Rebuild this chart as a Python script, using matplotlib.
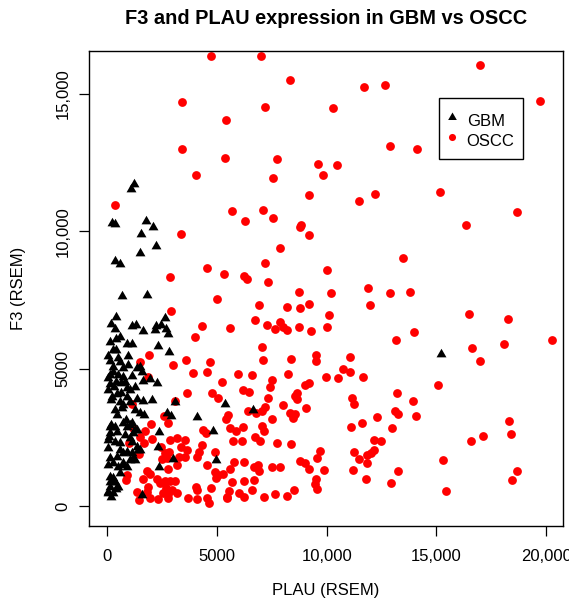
import matplotlib
matplotlib.use("Agg")
import matplotlib.pyplot as plt
from matplotlib.patches import Rectangle

plt.rcParams['font.family'] = ['Liberation Sans', 'DejaVu Sans']

# GBM samples (PLAU, F3) in RSEM
gbm_plau = [1226, 1076, 196, 360, 1746, 2065, 1545, 2215, 1486, 346, 574, 652, 1791, 392, 2625,
            164, 346, 1108, 1304, 1609, 2202, 2429, 2170, 2671, 2776, 574, 392, 119, 880, 1108,
            2293, 2808, 392, 469, 119, 574, 242, 725, 1486, 1336, 1563, 119, 41, 497, 725,
            1108, 392, 606, 802, 119, 1636, 1942, 2247, 1258, 301, 880, 196, 424, 880, 1336,
            1636, 2019, 3081, 574, 150, 725, 2703, 2899, 4070, 5374, 6650, 15219, 2352, 4827, 2320,
            2976, 4950, 2352, 1563,
            424, 150, 346, 725, 848, 1030, 1336, 119, 424, 802, 1180, 30, 346, 574, 1108,
            1336, 1486, 41, 574, 119, 424, 725, 1030, 1180, 41, 269, 497, 725, 119, 269,
            346, 497, 119, 41, 150, 392,
            1030, 1258, 1486, 1668, 652, 1108, 880, 1258, 1048, 880, 1108, 1258, 1408, 725, 880,
            574, 424, 269, 41, 119, 346, 119, 90, 255, 30, 938, 255, 938, 30, 1030, 620]
gbm_f3 = [11735, 11542, 10315, 10279, 10366, 10158, 9922, 9467, 9223, 8920, 8800, 7646, 7683, 6900, 6845,
          6616, 6445, 6565, 6590, 6372, 6565, 6590, 6408, 6445, 6252, 6164, 6070, 5982, 5888, 5898,
          5815, 5607, 5680, 5400, 5279, 5232, 5072, 5014, 5072, 5014, 4890, 4770, 4671, 4770, 4708,
          4744, 4526, 4468, 4526, 4442, 4551, 4624, 4468, 4344, 4344, 4307, 3980, 4067, 3980, 3896,
          3823, 3859, 3776, 3798, 3859, 3677, 3375, 3277, 3251, 3714, 3495, 5534, 2683, 2731, 2159,
          1700, 1675, 1409, 400,
          3313, 2949, 2887, 3011, 3131, 2949, 2767, 2647, 2705, 2585, 2647, 2403, 2341, 2283, 2341,
          2159, 2039, 2101, 2039, 1737, 1795, 1919, 1675, 1737, 1493, 1555, 1431, 1493, 1067, 1009,
          885, 703, 703, 462, 339, 619,
          3798, 3495, 3375, 3313, 3557, 3011, 2887, 2767, 2465, 1977, 1919, 1675, 2039, 1555, 1431,
          1191, 703, 462, 521, 885, 3495, 2887, 2523, 5680, 5462, 5462, 4879, 5134, 4224, 4224, 4114]

# OSCC samples (PLAU, F3) in RSEM
oscc_plau = [4722, 6987, 8323, 3400, 7170, 5392, 3400, 5347, 7717, 4025, 7534, 333, 5679, 6258, 7079,
             7534, 3341, 16970, 11696, 12639, 19718, 10269, 12867, 14098, 9599, 10465, 9813, 9189, 11468, 12197,
             15146, 18656, 16345, 8779, 8824, 9189, 7867, 13473, 9996,
             8733, 10178, 11878, 12867, 13793, 8172, 8779, 9189, 11969, 10100, 16482, 18246, 7867, 8018, 8172,
             8733, 9280, 10009, 13961, 13141, 16605, 18063, 20251, 16969, 8355, 9494, 9508, 11044, 8232, 10725,
             11044, 9964, 10511, 11650, 15069, 9007, 9189, 8628, 8551, 8628, 13186, 8004, 9052, 11135, 11240,
             13916, 13095, 13232, 14052, 8323, 8551, 8446, 12289, 11591, 11103, 12972, 18291, 18396, 17120, 16573,
             12152, 12471, 8369, 9690, 9540, 11240, 11468, 11819, 12001, 12152, 11833, 8779, 9007, 9189, 9859,
             11194, 15283, 13232, 18656, 18442, 11773, 12927, 9494, 9462, 9554, 8505, 8172, 15420, 7867,
             7170, 4526, 5301, 2840, 6226, 6363, 7307, 4982, 6910, 2885, 6714, 7261, 7625, 4312, 5588,
             3993, 7047, 1896, 3569, 7079, 1472, 4663, 2976, 4526, 3888, 5939, 6591, 1837, 5237, 7502,
             7411, 6194, 6468, 3628, 4754, 5041, 7320, 3081, 1108, 6395, 6760, 7033, 7183, 2580, 2762,
             5497, 5406, 7502, 1987, 1714, 1486, 1181, 4371, 4481, 5588, 5848, 6194, 7047, 7124, 6728,
             6956, 2047, 1668, 2853, 3186, 3537, 3341, 5739, 6121, 7717, 998, 4312, 2429, 2821, 2625,
             2717, 3614, 3537, 1440, 4175, 4070, 4904, 2489, 3264, 3186, 5784, 6213, 6682, 6878, 6924,
             7489, 4526, 5588, 2748, 880, 1819, 1955, 4891, 5055, 4950, 5283, 1609, 2247, 2398, 2612,
             2853, 3081, 5666, 6213, 6682, 4736, 4025, 4070, 2671, 2931, 2548, 3159, 2776, 1864, 1791,
             1336, 5998, 6240, 6605, 5543, 5465, 7152, 7639, 848, 1427, 1942, 2320, 2748, 3687, 4070,
             4526, 4617, 5437]
oscc_f3 = [16395, 16395, 15529, 14721, 14517, 14065, 13009, 12682, 12645, 12052, 11942, 10970, 10752, 10388, 10788,
           10486, 9922, 16068, 15267, 15318, 14746, 14480, 13108, 13009, 12463, 12416, 12052, 11335, 11116, 11371,
           11444, 10705, 10220, 10169, 10220, 9878, 9405, 9041, 8593,
           7803, 7744, 7937, 7744, 7781, 7257, 7209, 7355, 7329, 6943, 6991, 6809, 6710, 6528, 6408,
           6528, 6383, 6528, 6346, 6033, 5753, 5909, 6033, 5269, 5341, 5509, 5269, 5425, 4817, 4988,
           4890, 4708, 4671, 4708, 4417, 4406, 4478, 4114, 4005, 3907, 4125, 3677, 3579, 3921, 3703,
           3834, 3470, 3350, 3288, 3375, 3361, 3193, 3240, 3033, 2876, 2829, 3095, 2632, 2560, 2378,
           2403, 2367, 2268, 1992, 1759, 1955, 1700, 1857, 1941, 2050, 1566, 1638, 1577, 1347, 1311,
           1322, 1675, 1285, 1285, 936, 994, 848, 983, 801, 619, 593, 353, 557, 1431,
           8859, 8677, 8436, 8349, 8385, 8265, 8167, 7548, 7318, 7111, 6783, 6590, 6434, 6554, 6492,
           6153, 5800, 5509, 5316, 5305, 5232, 5254, 5145, 4879, 4843, 4806, 4770, 4697, 4515, 4588,
           4344, 4234, 4162, 4125, 4103, 3943, 3943, 3812, 3703, 3459, 3375, 3459, 3616, 3288, 3011,
           3313, 3157, 3157, 2986, 2720, 2523, 2829, 2767, 2647, 2840, 2731, 2887, 2913, 2720, 2523,
           2378, 2429, 2283, 2403, 2465, 2403, 2159, 2367, 2367, 2283, 2283, 2221, 2159, 1977, 1919,
           1737, 2039, 1795, 1893, 1977, 1795, 1977, 1700, 1795, 1493, 1613, 1591, 1431, 1493, 1285,
           1409, 1482, 1347, 1347, 1129, 1285, 1154, 1227, 1129, 1009, 1165, 972, 972, 827, 921,
           921, 899, 863, 910, 947, 644, 703, 583, 644, 583, 462, 484, 437, 703, 521,
           521, 462, 339, 583, 546, 339, 339, 426, 947, 218, 280, 255, 280, 280, 244,
           280, 120, 280]

x_ticks = [0, 5000, 10000, 15000, 20000]
x_tick_labels = ["0", "5000", "10,000", "15,000", "20,000"]
y_ticks = [0, 5000, 10000, 15000]
y_tick_labels = ["0", "5000", "10,000", "15,000"]
groups = ["GBM", "OSCC"]

# R style filled triangle (pch 17), centred on its centroid
tri = [(0, 1), (-0.866, -0.5), (0.866, -0.5)]

fig = plt.figure(figsize=(5.69, 6.04), dpi=100)
ax = fig.add_axes([0.1564, 0.1291, 0.8330, 0.7864])

ax.scatter(oscc_plau, oscc_f3, s=40, marker='o', color='#FF0000', linewidths=0, zorder=2)
ax.scatter(gbm_plau, gbm_f3, s=68, marker=tri, color='black', linewidths=0, zorder=3)

ax.set_xlim(-839, 20766)
ax.set_ylim(-728, 16567)

ax.set_xticks(x_ticks)
ax.set_xticklabels(x_tick_labels)
ax.set_yticks(y_ticks)
ax.set_yticklabels(y_tick_labels, rotation=90, va='center')
ax.tick_params(direction='out', length=7.2, width=0.9, labelsize=12, colors='black')
ax.tick_params(axis='x', pad=9)
ax.tick_params(axis='y', pad=6)
for sp in ax.spines.values():
    sp.set_linewidth(1.0)
    sp.set_color('black')

# legend box drawn R-style (boxed, tight rows, roomy top/bottom margins)
ax.add_patch(Rectangle((0.739, 0.7726), 0.1772, 0.1293, transform=ax.transAxes,
                       facecolor='white', edgecolor='black', linewidth=1.0, zorder=5))
ax.scatter([0.7658], [0.861], s=52, marker=tri, color='black', linewidths=0,
           transform=ax.transAxes, zorder=6)
ax.scatter([0.7658], [0.8196], s=26, marker='o', color='#FF0000', linewidths=0,
           transform=ax.transAxes, zorder=6)
ax.text(0.7968, 0.8427, groups[0], transform=ax.transAxes, fontsize=12, va='baseline', zorder=6)
ax.text(0.7968, 0.8006, groups[1], transform=ax.transAxes, fontsize=12, va='baseline', zorder=6)

fig.text(0.573, 0.970, "F3 and PLAU expression in GBM vs OSCC", ha='center', va='center',
         fontsize=14.4, fontweight='bold')
fig.text(0.573, 0.022, "PLAU (RSEM)", ha='center', va='center', fontsize=12)
fig.text(0.032, 0.5224, "F3 (RSEM)", ha='center', va='center', rotation=90, fontsize=12)

fig.savefig("out.png", dpi=100)
